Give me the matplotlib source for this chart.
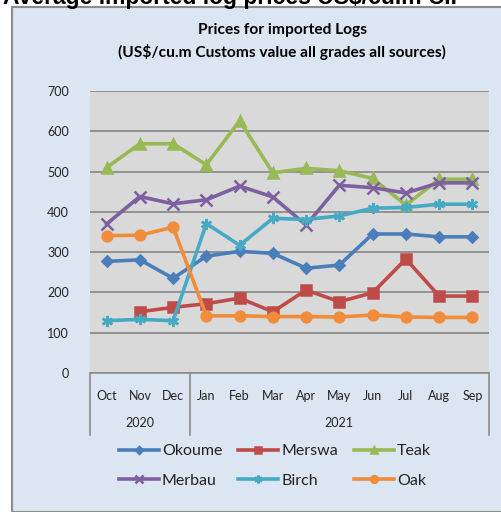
import matplotlib.pyplot as plt
from matplotlib.patches import Rectangle
import numpy as np

# monthly average prices, Oct 2020 - Sep 2021
months = ['Oct', 'Nov', 'Dec', 'Jan', 'Feb', 'Mar', 'Apr', 'May', 'Jun', 'Jul', 'Aug', 'Sep']
years = ['2020', '2021']
year_groups = [(0, 2), (3, 11)]

okoume = [277, 281, 235, 290, 302, 297, 260, 268, 345, 345, 338, 338]
merswa = [np.nan, 152, 163, 172, 186, 152, 206, 177, 199, 283, 191, 191]
teak = [510, 569, 569, 517, 626, 497, 508, 502, 483, 417, 481, 481]
merbau = [370, 438, 420, 430, 464, 437, 367, 466, 460, 447, 472, 472]
birch = [130, 133, 130, 371, 317, 384, 381, 390, 409, 411, 419, 419]
oak = [341, 342, 362, 142, 142, 140, 140, 139, 144, 139, 138, 138]

names = ['Okoume', 'Merswa', 'Teak', 'Merbau', 'Birch', 'Oak']
series = [okoume, merswa, teak, merbau, birch, oak]
colors = ['#4a7ebb', '#be4b48', '#98b954', '#7d60a0', '#46aac5', '#f08c3a']
markers = ['D', 's', '^', 'x', (6, 2, 0), 'o']
msizes = [5, 7, 7, 8, 8, 7]

plt.rcParams['font.family'] = ['Lato', 'DejaVu Sans']

fig = plt.figure(figsize=(5.01, 5.12), dpi=100)
fig.patch.set_facecolor('white')

# chart panel
fig.patches.append(Rectangle((12 / 501, 0), 1.0, 1 - 7 / 512, transform=fig.transFigure,
                             facecolor='#dce6f2', edgecolor='#8c8c8c', linewidth=1.5, zorder=-5))

# heading cut off at the top of the image
fig.text(3 / 501, 1 - 4 / 512, 'Average imported log prices US$/cu.m CIF', family='Liberation Sans',
         fontweight='bold', fontsize=16.5, va='baseline', ha='left', color='black')

fig.text(282 / 501, 1 - 30 / 512, 'Prices for imported Logs', ha='center', va='center',
         fontsize=11.2, fontweight='bold')
fig.text(282 / 501, 1 - 52 / 512, '(US$/cu.m Customs value all grades all sources)', ha='center',
         va='center', fontsize=11.2, fontweight='bold')

ax = fig.add_axes([90 / 501, 1 - 373 / 512, 399 / 501, 282 / 512], zorder=2)
ax.set_facecolor('#d9d9d9')
x = np.arange(len(months))
lines = []
for name, vals, c, m, ms in zip(names, series, colors, markers, msizes):
    ln, = ax.plot(x, vals, color=c, lw=2.6, marker=m, markersize=ms, mew=1.8, mec=c, mfc=c,
                  label=name, zorder=3)
    lines.append(ln)

ax.set_xlim(-0.5, len(months) - 0.5)
ax.set_ylim(0, 700)
ax.set_yticks(range(0, 701, 100))
ax.yaxis.grid(True, color='#868686', lw=1.2)
ax.set_axisbelow(True)
ax.tick_params(axis='y', length=0, pad=15, labelsize=9, labelcolor='#222222')
ax.set_xticks(x)
ax.set_xticklabels(months)
ax.tick_params(axis='x', length=0, pad=12, labelsize=9, labelcolor='#222222')
for s in ['top', 'right', 'left']:
    ax.spines[s].set_visible(False)
ax.spines['bottom'].set_color('#8c8c8c')
ax.spines['bottom'].set_linewidth(1.2)

# year grouping below months
trans = ax.get_xaxis_transform()
for yr, (a, b) in zip(years, year_groups):
    ax.text((a + b) / 2, -50 / 282, yr, transform=trans, ha='center', va='center',
            fontsize=9, color='#222222')
for xs in [-0.5, year_groups[0][1] + 0.5, len(months) - 0.5]:
    ax.plot([xs, xs], [0, -62 / 282], transform=trans, color='#8c8c8c', lw=1.2, clip_on=False)

# legend filled row by row like the original
order = [0, 3, 1, 4, 2, 5]
leg = fig.legend([lines[i] for i in order], [names[i] for i in order], loc='center',
                 bbox_to_anchor=(275 / 501, 1 - 466 / 512), ncol=3,
                 frameon=False, fontsize=11.5, handlelength=2.5, handletextpad=0.2,
                 columnspacing=1.0, labelspacing=0.95, markerscale=0.7)
for t in leg.get_texts():
    t.set_color('#222222')

plt.savefig('out.png', dpi=100, facecolor=fig.get_facecolor())
